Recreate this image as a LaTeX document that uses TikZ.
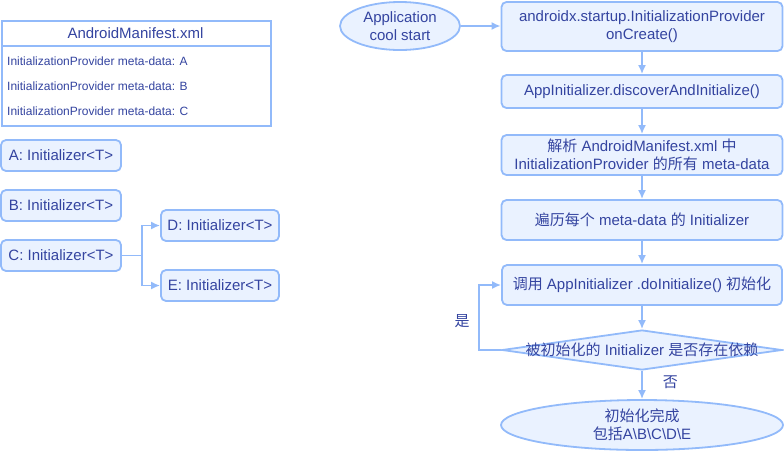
\documentclass[tikz,border=0pt]{standalone}
\usepackage{fontspec}
\setmainfont{Liberation Sans}
\newfontfamily\cjk{Noto Sans CJK SC}
\usetikzlibrary{arrows.meta,shapes.geometric,positioning,calc}
\definecolor{flowBlue}{RGB}{146,186,250}
\definecolor{flowFill}{RGB}{234,242,255}
\definecolor{flowText}{RGB}{52,68,160}
\tikzset{
	stepbox/.style={draw=flowBlue,fill=flowFill,line width=1.8pt,rounded corners=5pt,text=flowText,align=center,inner sep=0pt,font=\fontsize{15}{18}\selectfont},
	startstop/.style={stepbox,ellipse,sharp corners},
	decision/.style={stepbox,diamond,sharp corners},
	flow/.style={draw=flowBlue,line width=1.8pt,-{Latex[length=9pt,width=8pt]}},
	lbl/.style={text=flowText,inner sep=0pt,font=\fontsize{15}{18}\selectfont},
}
\begin{document}
\begin{tikzpicture}[x=1pt,y=-1pt]
\useasboundingbox (0,0) rectangle (784,451);
% manifest table
\node [draw=flowBlue,fill=white,line width=1.8pt,minimum width=269pt,minimum height=105pt,anchor=north west] (manifest) at (1,20){};
\node [lbl] (manifestTitle) at (135.5,33){AndroidManifest.xml};
\draw [flowBlue,line width=1.8pt] ($(manifest.north west)+(0,26)$) -- ($(manifest.north east)+(0,26)$);
\node [lbl,font=\fontsize{12}{14}\selectfont,anchor=west] (metaA) at (7,61){InitializationProvider meta-data: A};
\node [lbl,font=\fontsize{12}{14}\selectfont,anchor=west] (metaB) at (7,86){InitializationProvider meta-data: B};
\node [lbl,font=\fontsize{12}{14}\selectfont,anchor=west] (metaC) at (7,111){InitializationProvider meta-data: C};
% initializers
\node [stepbox,minimum width=120pt,minimum height=31pt] (initA) at (61,155.5){A: Initializer<T>};
\node [stepbox,minimum width=120pt,minimum height=31pt] (initB) at (61,205.5){B: Initializer<T>};
\node [stepbox,minimum width=120pt,minimum height=31pt] (initC) at (61,255.5){C: Initializer<T>};
\node [stepbox,minimum width=118pt,minimum height=31pt] (initD) at (220,225.5){D: Initializer<T>};
\node [stepbox,minimum width=118pt,minimum height=31pt] (initE) at (220,285.5){E: Initializer<T>};
\draw [flow] (initC.east) -- ++(20,0) coordinate(split) |- (initD.west);
\draw [flow] (split) |- (initE.west);
% startup flow
\node [startstop,minimum width=120pt,minimum height=48pt] (appStart) at (400,26){Application\\cool start};
\node [stepbox,minimum width=281pt,minimum height=49pt] (provider) at (642,26.5){androidx.startup.InitializationProvider\\onCreate()};
\node [stepbox,minimum width=281pt,minimum height=33pt] (discover) at (642,91.5){AppInitializer.discoverAndInitialize()};
\node [stepbox,minimum width=281pt,minimum height=40pt] (parse) at (642,155){{\cjk 解析} AndroidManifest.xml {\cjk 中}\\InitializationProvider {\cjk 的所有} meta-data};
\node [stepbox,minimum width=281pt,minimum height=40pt] (traverse) at (642,220){{\cjk 遍历每个} meta-data {\cjk 的} Initializer};
\node [stepbox,minimum width=280pt,minimum height=40pt] (doInit) at (642,285){{\cjk 调用} AppInitializer .doInitialize() {\cjk 初始化}};
\node [decision,minimum width=280pt,minimum height=40pt] (hasDeps) at (642,350){\makebox[0pt]{{\cjk 被初始化的} Initializer {\cjk 是否存在依赖}}};
\node [startstop,minimum width=282pt,minimum height=50pt] (finish) at (642,425){{\cjk 初始化完成}\\{\cjk 包括}A\textbackslash B\textbackslash C\textbackslash D\textbackslash E};
\draw [flow] (appStart.east) -- (provider.west|-appStart.east);
\draw [flow] (provider.south) -- (discover.north);
\draw [flow] (discover.south) -- (parse.north);
\draw [flow] (parse.south) -- (traverse.north);
\draw [flow] (traverse.south) -- (doInit.north);
\draw [flow] (doInit.south) -- (hasDeps.north);
\draw [flow] (hasDeps.south) -- (finish.north) node [lbl,pos=.4,right=20pt] (noLbl){\cjk 否};
\draw [flow] (hasDeps.west) -- ++(-22,0) coordinate(loopBack) |- (doInit.west);
\node [lbl] (yesLbl) at (462,321){\cjk 是};
\end{tikzpicture}
\end{document}
